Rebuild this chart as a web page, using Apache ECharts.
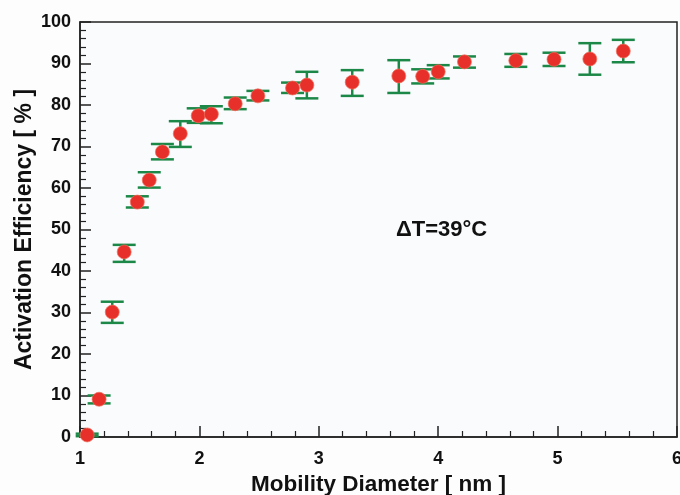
<!DOCTYPE html>
<html>
<head>
<meta charset="utf-8">
<script src="https://cdn.jsdelivr.net/npm/echarts@6/dist/echarts.min.js"></script>
<style>
  html, body { margin: 0; padding: 0; background: #fdfdfd; }
  #chart { width: 680px; height: 495px; }
</style>
</head>
<body>
<div id="chart"></div>
<script>
// data
var diameters = [1.06, 1.16, 1.27, 1.37, 1.48, 1.58, 1.69, 1.84, 1.99, 2.10, 2.30, 2.49,
  2.78, 2.90, 3.28, 3.67, 3.87, 4.00, 4.22, 4.65, 4.97, 5.27, 5.55];
var efficiency = [0.5, 9.1, 30.1, 44.6, 56.6, 61.9, 68.7, 73.1, 77.4, 77.8, 80.3, 82.2,
  84.1, 84.8, 85.5, 87.0, 86.9, 88.0, 90.4, 90.7, 91.0, 91.1, 93.0];
var errLow = [0.2, 8.1, 27.5, 42.2, 55.3, 60.1, 66.9, 69.9, 75.7, 75.6, 79.0, 81.1,
  82.9, 81.6, 82.2, 82.9, 85.2, 86.4, 89.0, 89.2, 89.4, 87.3, 90.3];
var errHigh = [0.8, 10.0, 32.6, 46.3, 58.0, 63.8, 70.6, 76.1, 79.2, 79.7, 81.8, 83.4,
  85.4, 88.0, 88.4, 90.8, 88.6, 89.6, 91.7, 92.3, 92.6, 94.9, 95.7];
var xTicks = [1, 2, 3, 4, 5, 6];
var yTicks = [0, 10, 20, 30, 40, 50, 60, 70, 80, 90, 100];

var font = "'Liberation Sans', Arial, sans-serif";
var points = diameters.map(function (d, i) { return [d, efficiency[i]]; });
var bars = diameters.map(function (d, i) { return [d, errLow[i], errHigh[i]]; });

var chart = echarts.init(document.getElementById("chart"));
chart.setOption({
  backgroundColor: "#fdfdfd",
  animation: false,
  grid: {
    left: 80, right: 3, top: 22, bottom: 58,
    outerBoundsMode: "none",
    containLabel: false,
    show: true,
    backgroundColor: "#fafbfd",
    borderColor: "#222",
    borderWidth: 1.5
  },
  xAxis: {
    type: "value",
    min: xTicks[0],
    max: xTicks[xTicks.length - 1],
    interval: 1,
    name: "Mobility Diameter [ nm ]",
    nameLocation: "middle",
    nameGap: 36,
    nameMoveOverlap: false,
    nameTextStyle: { fontFamily: font, fontWeight: "bold", fontSize: 22.5, color: "#111" },
    axisLine: { lineStyle: { color: "#222", width: 1.5 } },
    axisTick: { inside: true, length: 11, lineStyle: { color: "#222", width: 1.5 } },
    minorTick: { show: true, splitNumber: 5, length: 6, lineStyle: { color: "#222", width: 1.2 } },
    splitLine: { show: false },
    axisLabel: { margin: 13, fontFamily: font, fontWeight: "bold", fontSize: 18, color: "#111" }
  },
  yAxis: {
    type: "value",
    min: yTicks[0],
    max: yTicks[yTicks.length - 1],
    interval: 10,
    name: "Activation Efficiency [ % ]",
    nameLocation: "middle",
    nameGap: 44,
    nameMoveOverlap: false,
    nameTextStyle: { fontFamily: font, fontWeight: "bold", fontSize: 23, color: "#111" },
    axisLine: { lineStyle: { color: "#222", width: 1.5 } },
    axisTick: { inside: true, length: 11, lineStyle: { color: "#222", width: 1.5 } },
    minorTick: { show: true, splitNumber: 5, length: 6, lineStyle: { color: "#222", width: 1.2 } },
    splitLine: { show: false },
    axisLabel: { margin: 9, fontFamily: font, fontWeight: "bold", fontSize: 18, color: "#111" }
  },
  graphic: [{
    type: "text",
    left: 396,
    top: 219,
    style: { text: "ΔT=39°C", font: "bold 22px " + font, fill: "#111" }
  }],
  series: [
    {
      type: "custom",
      data: bars,
      z: 2,
      renderItem: function (params, api) {
        var lo = api.coord([api.value(0), api.value(1)]);
        var hi = api.coord([api.value(0), api.value(2)]);
        var hw = 11.5;
        var st = { stroke: "#1c8848", lineWidth: 2.5 };
        return {
          type: "group",
          children: [
            { type: "line", shape: { x1: lo[0], y1: lo[1], x2: hi[0], y2: hi[1] }, style: st },
            { type: "line", shape: { x1: lo[0] - hw, y1: lo[1], x2: lo[0] + hw, y2: lo[1] }, style: st },
            { type: "line", shape: { x1: hi[0] - hw, y1: hi[1], x2: hi[0] + hw, y2: hi[1] }, style: st }
          ]
        };
      }
    },
    {
      type: "scatter",
      data: points,
      z: 3,
      symbol: "circle",
      symbolSize: 14,
      itemStyle: { color: "#e8302b", opacity: 1, borderColor: "rgba(240,110,90,0.7)", borderWidth: 1 }
    }
  ]
});
</script>
</body>
</html>
